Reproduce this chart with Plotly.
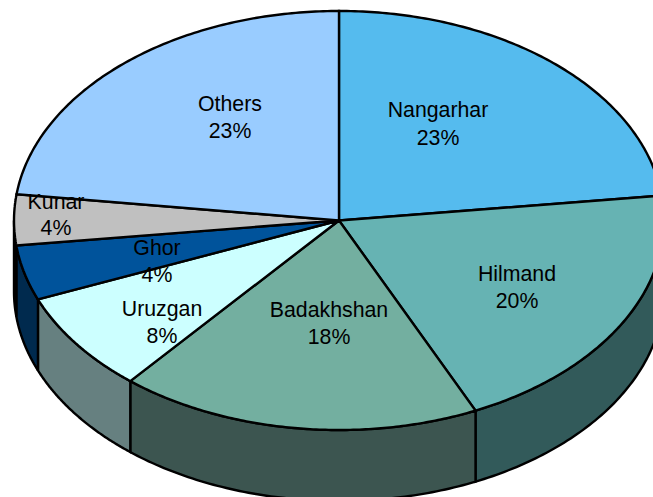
import numpy as np
import plotly.graph_objects as go

categories = ["Nangarhar", "Hilmand", "Badakhshan", "Uruzgan", "Ghor", "Kunar", "Others"]
shares = [23.1, 20.0, 18.0, 7.75, 4.25, 3.9, 23.0]
percent_labels = ["23%", "20%", "18%", "8%", "4%", "4%", "23%"]

top_colors = ["#55BBEE", "#66B3B3", "#73AFA0", "#CCFFFF", "#00539B", "#C0C0C0", "#99CCFF"]
side_colors = ["#2A5D77", "#325A5A", "#3C5550", "#668080", "#002A4E", "#606060", "#4D6680"]
label_xy = [(438, 112), (517, 276), (329, 312), (162, 311), (157, 250), (56, 204), (230, 106)]
pct_xy = [(438, 140), (517, 303), (329, 339), (162, 338), (157, 277), (56, 230), (230, 133)]

CX, CY, RX, RY, DEPTH = 339, 220.5, 325, 209.5, 71
W, H = 653, 497


def ellipse(theta_deg, dy=0.0):
    t = np.radians(theta_deg)
    return CX + RX * np.sin(t), CY - RY * np.cos(t) + dy


fig = go.Figure()
edges = np.concatenate([[0], np.cumsum(shares)]) * 3.6
line = dict(color="#000000", width=2.4, simplify=False)

# visible outer wall (front half of the disc only)
for i in range(len(categories)):
    a, b = max(edges[i], 90), min(edges[i + 1], 270)
    if b <= a:
        continue
    th = np.linspace(a, b, 80)
    x1, y1 = ellipse(th)
    x2, y2 = ellipse(th[::-1], DEPTH)
    fig.add_trace(go.Scatter(
        x=np.r_[x1, x2, x1[0]], y=np.r_[y1, y2, y1[0]], mode="lines",
        fill="toself", fillcolor=side_colors[i], line=line, hoverinfo="skip", showlegend=False))

# top face
for i in range(len(categories)):
    th = np.linspace(edges[i], edges[i + 1], 120)
    x1, y1 = ellipse(th)
    fig.add_trace(go.Scatter(
        x=np.r_[CX, x1, CX], y=np.r_[CY, y1, CY], mode="lines",
        fill="toself", fillcolor=top_colors[i], line=line, hoverinfo="skip", showlegend=False))

font = dict(family="Liberation Sans, Arial, sans-serif", size=21.3, color="#000000")
fig.add_trace(go.Scatter(
    x=[p[0] for p in label_xy], y=[p[1] for p in label_xy], text=categories,
    mode="text", textposition="middle center", textfont=font, hoverinfo="skip", showlegend=False))
fig.add_trace(go.Scatter(
    x=[p[0] for p in pct_xy], y=[p[1] for p in pct_xy], text=percent_labels,
    mode="text", textposition="middle center", textfont=font, hoverinfo="skip", showlegend=False))

fig.update_layout(
    width=W, height=H, autosize=False,
    margin=dict(l=0, r=0, t=0, b=0),
    paper_bgcolor="#FFFFFF", plot_bgcolor="#FFFFFF",
    xaxis=dict(range=[0, W], visible=False, fixedrange=True),
    yaxis=dict(range=[H, 0], visible=False, fixedrange=True),
)
fig.write_html("out.html", config={"displayModeBar": False},
               post_script="document.body.style.margin='0';document.documentElement.style.overflow='hidden';")
